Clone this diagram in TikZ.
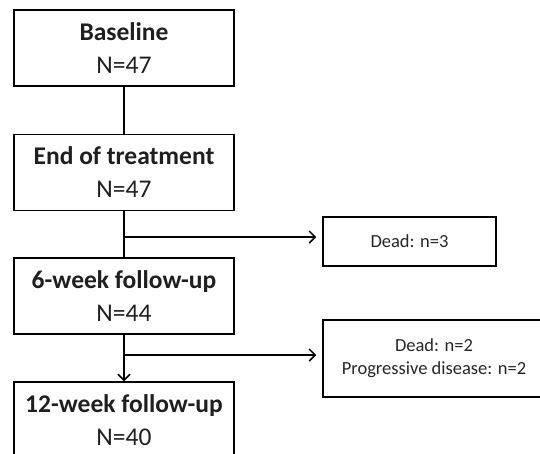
\documentclass[tikz,border=0pt]{standalone}
\usepackage{fontspec}
\setmainfont{Carlito}
\usetikzlibrary{arrows.meta}

\tikzset{
  mainbox/.style={draw, line width=1.5pt, minimum width=220pt, minimum height=76pt,
    align=center, inner sep=0pt, font=\fontsize{25.5}{33}\selectfont, text=black!88},
  sidebox/.style={draw, line width=1.5pt, align=center, inner sep=0pt,
    font=\fontsize{18.5}{23}\selectfont, text=black!85},
  link/.style={line width=1.5pt},
  >={Straight Barb[length=6pt,width=12pt]}
}

\begin{document}
\begin{tikzpicture}[x=1pt,y=-1pt]
        \useasboundingbox (0,0) rectangle (540,453);
        \clip (0,0) rectangle (540,453);
        % main column
        \node[mainbox] (baseline) at (124,48) {\textbf{Baseline}\\N=47};
        \node[mainbox] (eot) at (124,172.5) {\textbf{End of treatment}\\N=47};
        \node[mainbox] (wk6) at (124,296) {\textbf{6-week follow-up}\\N=44};
        \node[mainbox] (wk12) at (124,420) {\textbf{12-week follow-up}\\N=40};
        % drop-outs
        \node[sidebox, minimum width=173pt, minimum height=49pt] (dead1) at (409.5,241.5) {Dead: n=3};
        \node[sidebox, minimum width=222pt, minimum height=77pt] (dead2) at (434,358.5) {Dead: n=2\\Progressive disease: n=2};
        \coordinate (b1) at (124,237);
        \coordinate (b2) at (124,355);
        \draw[link] (baseline) -- (eot);
        \draw[link] (eot) -- (wk6);
        \draw[link, ->] (wk6) -- (wk12);
        \draw[link, ->, shorten >=6pt] (b1) -- (b1 -| dead1.west);
        \draw[link, ->, shorten >=6pt] (b2) -- (b2 -| dead2.west);
        \end{tikzpicture}
\end{document}
